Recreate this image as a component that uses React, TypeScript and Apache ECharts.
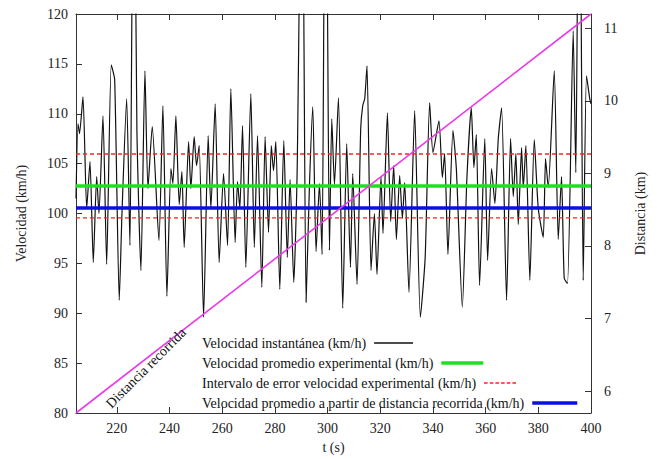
import React, { useEffect, useRef } from "react";
import * as echarts from "echarts";

// Tiempo (s) y velocidad instantánea (km/h)
const tiempo = [
  204.5, 205.26, 205.83, 207.15, 208.56, 209.81, 211.06, 212.35, 213.22, 214.74,
  216.14, 217.89, 219.18, 220.92, 221.95, 223.73, 224.98, 226.2, 226.7, 227.63,
  229.15, 230.67, 231.81, 233.44, 235.98, 237.49, 239.01, 240.53, 241.29, 242.42,
  243.68, 244.7, 245.57, 247.24, 248.11, 249.36, 250.27, 251.26, 252.93, 254.67,
  255.7, 257.33, 258.84, 260.51, 262.03, 263.28, 264.91, 265.82, 266.7, 267.72,
  268.97, 270.87, 272.19, 273.41, 275.04, 276.29, 277.58, 278.64, 279.47, 280.35,
  281.87, 283.38, 284.71, 285.77, 287.17, 288.43, 290.0, 290.5, 291.84, 293.13,
  294.38, 295.63, 296.92, 297.91, 299.0, 299.5, 300.71, 301.59, 302.61, 304.13,
  305.76, 307.27, 308.68, 309.55, 311.18, 312.58, 313.34, 314.1, 314.97, 316.49,
  317.78, 318.76, 320.28, 321.04, 322.71, 323.96, 325.1, 326.12, 327.37, 328.4,
  329.27, 330.9, 333.06, 335.22, 337.05, 338.75, 340.0, 342.28, 343.57, 344.44,
  345.69, 347.59, 348.88, 351.15, 352.9, 354.56, 355.55, 356.46, 357.71, 359.68,
  360.75, 362.26, 363.51, 364.8, 366.06, 367.95, 369.47, 370.49, 371.48, 372.39,
  373.64, 374.29, 375.28, 376.79, 378.46, 379.98, 381.87, 382.74, 383.77, 386.05,
  387.56, 388.81, 389.83, 391.08, 393.24, 394.23, 395.3, 395.8, 397.04, 398.29,
  399.54, 400,
];
const velocidad = [
  101.5, 109.0, 108.0, 111.7, 100.5, 105.2, 95.1, 103.7, 100.0, 109.8,
  94.9, 114.9, 113.4, 91.3, 100.0, 111.5, 96.8, 134, 134, 108.2,
  94.3, 114.3, 102.5, 108.7, 97.3, 110.8, 91.7, 104.5, 103.0, 109.8,
  100.9, 104.2, 96.6, 107.2, 102.5, 107.7, 104.8, 106.8, 89.6, 107.8,
  100.5, 111.0, 95.1, 104.0, 96.8, 112.5, 97.1, 103.2, 100.5, 108.8,
  94.6, 112.0, 96.6, 107.8, 92.6, 107.7, 98.1, 106.8, 104.3, 107.2,
  92.4, 107.3, 95.6, 103.4, 93.1, 103.9, 134, 134, 91.1, 102.9,
  110.7, 96.2, 103.0, 95.9, 134, 134, 96.3, 109.5, 102.9, 111.6,
  90.5, 107.0, 94.6, 104.0, 92.9, 108.5, 110.8, 111.5, 114.8, 94.3,
  100.0, 93.9, 103.7, 98.0, 110.1, 99.2, 104.8, 97.4, 103.8, 99.5,
  103.1, 92.1, 110.3, 89.6, 95.6, 111.1, 106.1, 109.3, 103.6, 106.0,
  95.9, 108.3, 104.5, 90.6, 103.6, 110.6, 104.6, 107.9, 92.8, 107.5,
  95.3, 104.5, 101.0, 107.5, 110.6, 91.3, 107.5, 101.7, 106.0, 98.9,
  106.6, 102.6, 106.8, 93.3, 107.4, 100.5, 97.6, 105.5, 102.6, 114.3,
  97.4, 103.7, 93.5, 93.0, 118.3, 104.1, 134, 134, 93.3, 113.8,
  111.5, 111.0,
];

const tRango = [204.5, 400];
const velPromedioExperimental = 102.76;
const intervaloError = [99.56, 105.96];
const velPromedioDistancia = 100.55;
const distanciaKm = [5.7, 11.195];

const ejeVelocidad = [80, 120];
const ejeDistancia = [5.7, 11.195];

const NOMBRES = [
  "Velocidad instantánea (km/h)",
  "Velocidad promedio experimental (km/h)",
  "Intervalo de error velocidad experimental (km/h)",
  "Velocidad promedio a partir de distancia recorrida (km/h)",
];

const FONT = "Liberation Serif";

const DASH_ICON =
  "path://M0,0h36v15h-36z M56.8,0h36v15h-36z M113.6,0h36v15h-36z M170.4,0h36v15h-36z M227.2,0h36v15h-36z M284,0h36v15h-36z";

export default function App() {
  const ref = useRef<HTMLDivElement>(null);

  useEffect(() => {
    if (!ref.current) return;
    const chart = echarts.init(ref.current, undefined, { renderer: "svg" });
    const axisColor = "#333";
    const labelStyle = { fontFamily: FONT, fontSize: 14, color: "#222" };

    const hLine = (v: number) => [
      [tRango[0], v],
      [tRango[1], v],
    ];

    const legendIcons = [
      { icon: "rect", w: 39, h: 1.3 },
      { icon: "rect", w: 42, h: 3.5 },
      { icon: DASH_ICON, w: 32, h: 1.5 },
      { icon: "rect", w: 45, h: 3.5 },
    ];

    const legends = NOMBRES.map((name, i) => ({
      orient: "horizontal",
      left: 197,
      top: 331 + i * 20,
      align: "right",
      itemWidth: legendIcons[i].w,
      itemHeight: legendIcons[i].h,
      icon: legendIcons[i].icon,
      symbolKeepAspect: false,
      itemStyle: { borderWidth: 0 },
      selectedMode: false,
      data: [name],
      textStyle: { fontFamily: FONT, fontSize: 14, color: "#111", padding: [0, 3, 0, 0] },
    }));

    chart.setOption({
      animation: false,
      backgroundColor: "#fff",
      textStyle: { fontFamily: FONT },
      grid: { left: 76, right: 66, top: 14, bottom: 42 },
      legend: legends,
      xAxis: [
        {
          type: "value",
          min: tRango[0],
          max: tRango[1],
          splitNumber: 10,
          position: "bottom",
          axisLine: { show: true, lineStyle: { color: axisColor, width: 1 } },
          axisTick: { show: true, inside: true, length: 6, lineStyle: { color: axisColor } },
          axisLabel: { ...labelStyle, margin: 8, showMinLabel: false },
          splitLine: { show: false },
          name: "t (s)",
          nameLocation: "middle",
          nameGap: 27,
          nameTextStyle: { fontFamily: FONT, fontSize: 14, color: "#222" },
        },
        {
          type: "value",
          min: tRango[0],
          max: tRango[1],
          splitNumber: 10,
          position: "top",
          axisLine: { show: true, lineStyle: { color: axisColor, width: 1 } },
          axisTick: { show: true, inside: true, length: 6, lineStyle: { color: axisColor } },
          axisLabel: { show: false },
          splitLine: { show: false },
        },
      ],
      yAxis: [
        {
          type: "value",
          min: ejeVelocidad[0],
          max: ejeVelocidad[1],
          interval: 5,
          position: "left",
          axisLine: { show: true, lineStyle: { color: axisColor, width: 1 } },
          axisTick: { show: true, inside: true, length: 6, lineStyle: { color: axisColor } },
          axisLabel: { ...labelStyle, margin: 8 },
          splitLine: { show: false },
          name: "Velocidad (km/h)",
          nameLocation: "middle",
          nameGap: 48,
          nameRotate: 90,
          nameTextStyle: { fontFamily: FONT, fontSize: 14, color: "#222" },
        },
        {
          type: "value",
          min: ejeDistancia[0],
          max: ejeDistancia[1],
          position: "right",
          axisLine: { show: true, lineStyle: { color: axisColor, width: 1 } },
          axisTick: { show: true, inside: true, length: 6, lineStyle: { color: axisColor } },
          axisLabel: { ...labelStyle, margin: 13, showMinLabel: false, showMaxLabel: false },
          splitLine: { show: false },
          name: "Distancia (km)",
          nameLocation: "middle",
          nameGap: 42,
          nameRotate: 90,
          nameTextStyle: { fontFamily: FONT, fontSize: 14, color: "#222" },
        },
      ],
      series: [
        {
          name: NOMBRES[0],
          type: "line",
          data: tiempo.map((t, i) => [t, velocidad[i]]),
          symbol: "none",
          smooth: 0.2,
          lineStyle: { color: "#111", width: 1.2 },
          itemStyle: { color: "#111" },
          z: 2,
        },
        {
          name: NOMBRES[1],
          type: "line",
          data: hLine(velPromedioExperimental),
          symbol: "none",
          lineStyle: { color: "#1fe01f", width: 3.5 },
          itemStyle: { color: "#1fe01f" },
          z: 3,
        },
        {
          name: NOMBRES[2],
          type: "line",
          data: hLine(intervaloError[1]),
          symbol: "none",
          lineStyle: { color: "#ff2020", width: 1.4, type: [4, 3] },
          itemStyle: { color: "#ff2020" },
          z: 3,
        },
        {
          name: NOMBRES[2],
          type: "line",
          data: hLine(intervaloError[0]),
          symbol: "none",
          lineStyle: { color: "#ff2020", width: 1.4, type: [4, 3] },
          itemStyle: { color: "#ff2020" },
          z: 3,
        },
        {
          name: NOMBRES[3],
          type: "line",
          data: hLine(velPromedioDistancia),
          symbol: "none",
          lineStyle: { color: "#0a10e0", width: 3.5 },
          itemStyle: { color: "#0a10e0" },
          z: 3,
        },
        {
          name: "Distancia recorrida",
          type: "line",
          yAxisIndex: 1,
          data: [
            [tRango[0], distanciaKm[0]],
            [tRango[1], distanciaKm[1]],
          ],
          symbol: "none",
          lineStyle: { color: "#e83ce8", width: 1.6 },
          itemStyle: { color: "#e83ce8" },
          z: 4,
        },
      ],
      graphic: [
        {
          type: "text",
          x: 146,
          y: 368,
          rotation: Math.PI / 4,
          z: 10,
          style: {
            text: "Distancia recorrida",
            fill: "#111",
            fontFamily: FONT,
            fontSize: 14,
            textAlign: "center",
            textVerticalAlign: "middle",
            align: "center",
            verticalAlign: "middle",
          },
        },
      ],
    });

    return () => chart.dispose();
  }, []);

  return (
    <div
      ref={ref}
      style={{ position: "fixed", left: 0, top: 0, width: 657, height: 459, background: "#fff" }}
    />
  );
}
